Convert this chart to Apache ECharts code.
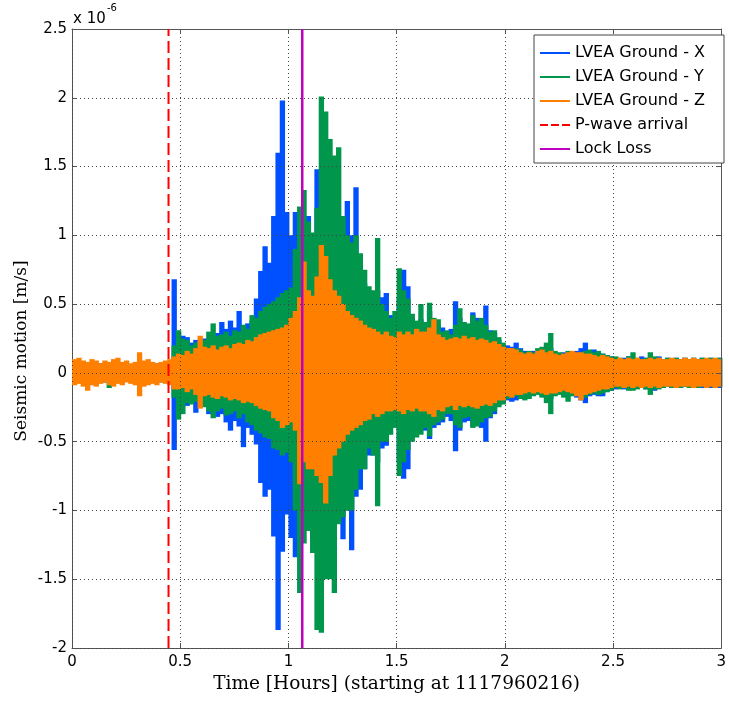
<!DOCTYPE html>
<html><head><meta charset="utf-8">
<script src="https://cdn.jsdelivr.net/npm/echarts@6/dist/echarts.min.js"></script>
<style>html,body{margin:0;padding:0;background:#fff}#c{width:729px;height:702px}</style>
</head><body><div id="c"></div>
<script>
// envelope bins: for each bin starting at i*TIME_STEP hours, the highest and lowest value (units: 1e-6 m/s)
const TIME_STEP = 0.02; // hours
const P_WAVE_HOURS = 0.446;
const LOCK_LOSS_HOURS = 1.064;
const seriesNames = ['LVEA Ground - X', 'LVEA Ground - Y', 'LVEA Ground - Z', 'P-wave arrival', 'Lock Loss'];

const xUpper = [
  .06,.05,.07,.06,.05,.06,.07,.05,.06,.06,
  .07,.05,.06,.06,.05,.07,.06,.05,.06,.07,
  .06,.07,.08,.68,.30,.27,.26,.22,.24,.20,
  .25,.24,.28,.29,.37,.32,.38,.33,.45,.34,
  .36,.38,.54,.74,.92,.80,1.14,1.60,1.98,1.17,
  1.00,1.17,1.17,.95,1.14,.95,1.48,1.00,.95,.90,
  .85,.80,.90,1.25,1.00,1.35,.75,.65,.60,.55,
  .60,.55,.58,.42,.40,.55,.75,.63,.40,.34,
  .39,.35,.45,.38,.35,.33,.30,.32,.52,.40,
  .35,.33,.44,.40,.36,.49,.31,.29,.24,.20,
  .20,.19,.22,.18,.16,.15,.16,.15,.16,.17,
  .18,.15,.14,.15,.14,.15,.16,.18,.22,.15,
  .17,.15,.14,.13,.12,.11,.10,.11,.12,.11,
  .10,.12,.11,.10,.11,.12,.10,.11,.10,.11,
  .10,.11,.10,.11,.10,.11,.10,.11,.10,.11];
const xLower = [
  -.06,-.07,-.05,-.06,-.07,-.06,-.05,-.07,-.06,-.05,
  -.06,-.07,-.06,-.05,-.06,-.07,-.06,-.08,-.06,-.05,
  -.06,-.07,-.07,-.56,-.28,-.22,-.24,-.20,-.29,-.24,
  -.22,-.30,-.26,-.32,-.30,-.36,-.42,-.35,-.39,-.54,
  -.40,-.45,-.52,-.80,-.90,-.85,-1.19,-1.87,-1.30,-1.03,
  -1.20,-1.34,-1.24,-1.10,-1.00,-1.21,-1.05,-1.10,-1.00,-1.05,
  -.95,-.90,-1.21,-1.00,-1.29,-.90,-.85,-.70,-.60,-.60,
  -.65,-.55,-.53,-.40,-.36,-.65,-.77,-.70,-.45,-.40,
  -.38,-.42,-.48,-.40,-.38,-.36,-.32,-.35,-.57,-.42,
  -.36,-.35,-.39,-.38,-.40,-.50,-.33,-.30,-.24,-.22,
  -.20,-.21,-.20,-.17,-.18,-.17,-.16,-.15,-.17,-.18,
  -.19,-.16,-.15,-.16,-.17,-.16,-.18,-.20,-.22,-.17,
  -.16,-.17,-.17,-.14,-.13,-.12,-.11,-.12,-.11,-.12,
  -.11,-.11,-.12,-.11,-.13,-.11,-.11,-.10,-.11,-.10,
  -.11,-.10,-.10,-.11,-.10,-.11,-.10,-.11,-.10,-.11];
const yUpper = [
  .05,.06,.06,.07,.05,.06,.05,.07,.06,.05,
  .06,.07,.05,.06,.07,.06,.05,.07,.06,.05,
  .07,.06,.07,.20,.31,.25,.24,.20,.22,.18,
  .24,.30,.36,.27,.28,.30,.27,.31,.30,.35,
  .32,.42,.40,.45,.48,.50,.52,.55,.58,.60,
  .62,.90,1.21,1.33,1.10,1.02,1.20,2.01,1.90,1.70,
  1.58,1.64,1.14,1.00,.95,1.00,.87,.75,.63,.60,
  .98,.50,.45,.40,.45,.76,.60,.54,.43,.38,
  .50,.37,.51,.40,.39,.30,.31,.28,.35,.47,
  .37,.36,.42,.38,.40,.35,.30,.31,.26,.22,
  .18,.17,.18,.17,.15,.16,.15,.18,.19,.22,
  .29,.16,.15,.14,.16,.15,.14,.15,.16,.17,
  .15,.16,.14,.13,.12,.12,.11,.10,.12,.15,
  .11,.10,.11,.15,.12,.11,.10,.11,.10,.11,
  .10,.11,.10,.11,.10,.11,.10,.11,.10,.11];
const yLower = [
  -.07,-.05,-.06,-.06,-.05,-.07,-.06,-.05,-.11,-.06,
  -.07,-.05,-.06,-.07,-.06,-.05,-.07,-.06,-.05,-.06,
  -.07,-.06,-.08,-.18,-.34,-.30,-.22,-.23,-.21,-.20,
  -.25,-.28,-.33,-.28,-.26,-.31,-.30,-.28,-.33,-.30,
  -.36,-.38,-.42,-.44,-.47,-.48,-.55,-.56,-.60,-.58,
  -.65,-1.00,-1.60,-1.24,-1.15,-1.31,-1.87,-1.89,-1.50,-1.50,
  -1.60,-1.10,-1.05,-1.00,-1.00,-.85,-.70,-.70,-.55,-.60,
  -.97,-.50,-.50,-.45,-.40,-.75,-.65,-.56,-.50,-.47,
  -.45,-.40,-.46,-.38,-.36,-.34,-.30,-.30,-.38,-.40,
  -.33,-.32,-.40,-.39,-.36,-.33,-.32,-.28,-.25,-.23,
  -.19,-.18,-.17,-.19,-.20,-.19,-.17,-.16,-.18,-.22,
  -.30,-.17,-.16,-.18,-.21,-.17,-.16,-.17,-.18,-.16,
  -.15,-.16,-.15,-.14,-.13,-.11,-.12,-.11,-.13,-.13,
  -.12,-.11,-.12,-.16,-.12,-.12,-.11,-.10,-.11,-.10,
  -.11,-.10,-.11,-.10,-.11,-.10,-.11,-.10,-.11,-.10];
const zUpper = [
  .10,.11,.09,.08,.10,.09,.07,.09,.08,.10,
  .11,.08,.09,.07,.08,.15,.09,.10,.08,.07,
  .08,.09,.10,.12,.14,.13,.16,.14,.18,.27,
  .19,.18,.20,.17,.19,.20,.18,.21,.22,.21,
  .24,.23,.26,.28,.29,.30,.31,.32,.33,.35,
  .40,.45,.55,.81,.60,.56,.70,.93,.85,.68,
  .60,.56,.50,.45,.42,.40,.38,.35,.33,.32,
  .30,.28,.30,.27,.26,.30,.28,.30,.28,.32,
  .30,.30,.33,.39,.28,.26,.24,.25,.26,.25,
  .27,.25,.26,.24,.25,.24,.22,.23,.21,.19,
  .18,.18,.17,.15,.14,.15,.14,.16,.17,.15,
  .16,.14,.13,.14,.15,.16,.15,.15,.14,.14,
  .13,.12,.13,.12,.11,.10,.11,.10,.11,.10,
  .11,.10,.10,.11,.10,.11,.10,.10,.11,.10,
  .10,.11,.10,.11,.10,.10,.11,.10,.11,.10];
const zLower = [
  -.09,-.08,-.10,-.13,-.09,-.10,-.08,-.07,-.09,-.10,
  -.08,-.09,-.07,-.08,-.09,-.17,-.10,-.09,-.08,-.09,
  -.07,-.08,-.09,-.12,-.12,-.11,-.14,-.12,-.16,-.26,
  -.17,-.16,-.18,-.19,-.17,-.18,-.20,-.19,-.20,-.22,
  -.21,-.22,-.24,-.26,-.27,-.28,-.33,-.35,-.40,-.38,
  -.36,-.42,-.81,-.65,-.70,-.70,-.75,-.80,-.95,-.75,
  -.60,-.55,-.50,-.45,-.42,-.40,-.38,-.35,-.34,-.30,
  -.32,-.30,-.28,-.28,-.27,-.28,-.30,-.27,-.28,-.26,
  -.28,-.28,-.30,-.32,-.27,-.28,-.25,-.24,-.27,-.24,
  -.25,-.24,-.25,-.26,-.24,-.23,-.24,-.22,-.20,-.20,
  -.17,-.18,-.16,-.16,-.15,-.14,-.15,-.14,-.15,-.16,
  -.15,-.15,-.14,-.13,-.14,-.15,-.17,-.20,-.16,-.15,
  -.14,-.13,-.12,-.12,-.11,-.10,-.10,-.11,-.10,-.11,
  -.10,-.11,-.10,-.11,-.10,-.11,-.10,-.10,-.10,-.11,
  -.10,-.10,-.10,-.11,-.10,-.10,-.11,-.10,-.11,-.10];

function bins(upper, lower) {
  return upper.map((u, i) => [i * TIME_STEP, u, lower[i]]);
}

const colors = ['#0050ff', '#00964b', '#ff8000', '#ff0000', '#c000c0'];
const sans = 'DejaVu Sans';
const serif = 'DejaVu Serif';
const axisCol = '#555';
const gridLine = { show: true, lineStyle: { color: '#444', width: 1, type: [1, 3] } };
const axisLine = { show: true, onZero: false, lineStyle: { color: axisCol } };
const axisTick = { show: true, inside: true, length: 5, lineStyle: { color: axisCol } };

function sig(name, data, color) {
  return {
    name, type: 'custom', data, silent: true, animation: false, color,
    itemStyle: { color },
    encode: { x: 0, y: [1, 2] },
    renderItem: function (params, api) {
      const t = api.value(0);
      const a = api.coord([t, api.value(1)]);
      const b = api.coord([t + TIME_STEP, api.value(2)]);
      return {
        type: 'rect',
        shape: { x: a[0], y: a[1], width: b[0] - a[0] + 1, height: b[1] - a[1] },
        style: { fill: color }
      };
    }
  };
}

const chart = echarts.init(document.getElementById('c'), null, { renderer: 'canvas' });
chart.setOption({
  animation: false,
  backgroundColor: '#fff',
  grid: { left: 72, top: 29, width: 654, height: 619, containLabel: false },
  xAxis: [{
    type: 'value', min: 0, max: 3, interval: 0.5, position: 'bottom',
    axisLine, axisTick,
    axisLabel: { color: '#000', fontFamily: sans, fontSize: 15, margin: 7 },
    splitLine: { show: false },
    name: 'Time [Hours] (starting at 1117960216)', nameLocation: 'middle', nameGap: 27,
    nameTextStyle: { color: '#000', fontFamily: serif, fontSize: 18.5 }
  }, {
    type: 'value', min: 0, max: 3, interval: 0.5, position: 'top', z: 10,
    axisLine, axisTick,
    axisLabel: { show: false }, splitLine: gridLine
  }],
  yAxis: [{
    type: 'value', min: -2, max: 2.5, interval: 0.5, position: 'left',
    axisLine, axisTick,
    axisLabel: { color: '#000', fontFamily: sans, fontSize: 15, margin: 5 },
    splitLine: { show: false }
  }, {
    type: 'value', min: -2, max: 2.5, interval: 0.5, position: 'right', z: 10,
    axisLine, axisTick,
    axisLabel: { show: false }, splitLine: gridLine
  }],
  legend: {
    orient: 'vertical', left: 534, top: 35, z: 20,
    padding: [10, 19, 6, 6], itemGap: 8, itemWidth: 30, itemHeight: 2,
    backgroundColor: '#fff', borderColor: '#444', borderWidth: 1, borderRadius: 0,
    textStyle: { color: '#000', fontFamily: sans, fontSize: 16 },
    data: [
      { name: seriesNames[0], icon: 'rect', itemStyle: { color: colors[0] } },
      { name: seriesNames[1], icon: 'rect', itemStyle: { color: colors[1] } },
      { name: seriesNames[2], icon: 'rect', itemStyle: { color: colors[2] } },
      { name: seriesNames[3], icon: 'path://M0,0h8v2h-8z M11,0h8v2h-8z M22,0h8v2h-8z', itemStyle: { color: colors[3] } },
      { name: seriesNames[4], icon: 'rect', itemStyle: { color: colors[4] } }
    ]
  },
  graphic: [
    { type: 'text', left: 73, top: 12, style: { text: 'x 10', fill: '#000', font: '15px "DejaVu Sans"' } },
    { type: 'text', left: 107, top: 3, style: { text: '-6', fill: '#000', font: '10px "DejaVu Sans"' } },
    { type: 'text', x: 22, y: 351, rotation: Math.PI / 2,
      style: { text: 'Seismic motion [m/s]', fill: '#000', font: '17px "DejaVu Serif"', align: 'center', verticalAlign: 'middle' } }
  ],
  series: [
    sig(seriesNames[0], bins(xUpper, xLower), colors[0]),
    sig(seriesNames[1], bins(yUpper, yLower), colors[1]),
    sig(seriesNames[2], bins(zUpper, zLower), colors[2]),
    { name: seriesNames[3], type: 'line', showSymbol: false, symbol: 'none', silent: true, color: colors[3], z: 12,
      data: [[P_WAVE_HOURS, -2], [P_WAVE_HOURS, 2.5]],
      lineStyle: { color: colors[3], width: 2, type: [12, 5] } },
    { name: seriesNames[4], type: 'line', showSymbol: false, symbol: 'none', silent: true, color: colors[4], z: 12,
      data: [[LOCK_LOSS_HOURS, -2], [LOCK_LOSS_HOURS, 2.5]],
      lineStyle: { color: colors[4], width: 2.5 } }
  ]
});
</script></body></html>
